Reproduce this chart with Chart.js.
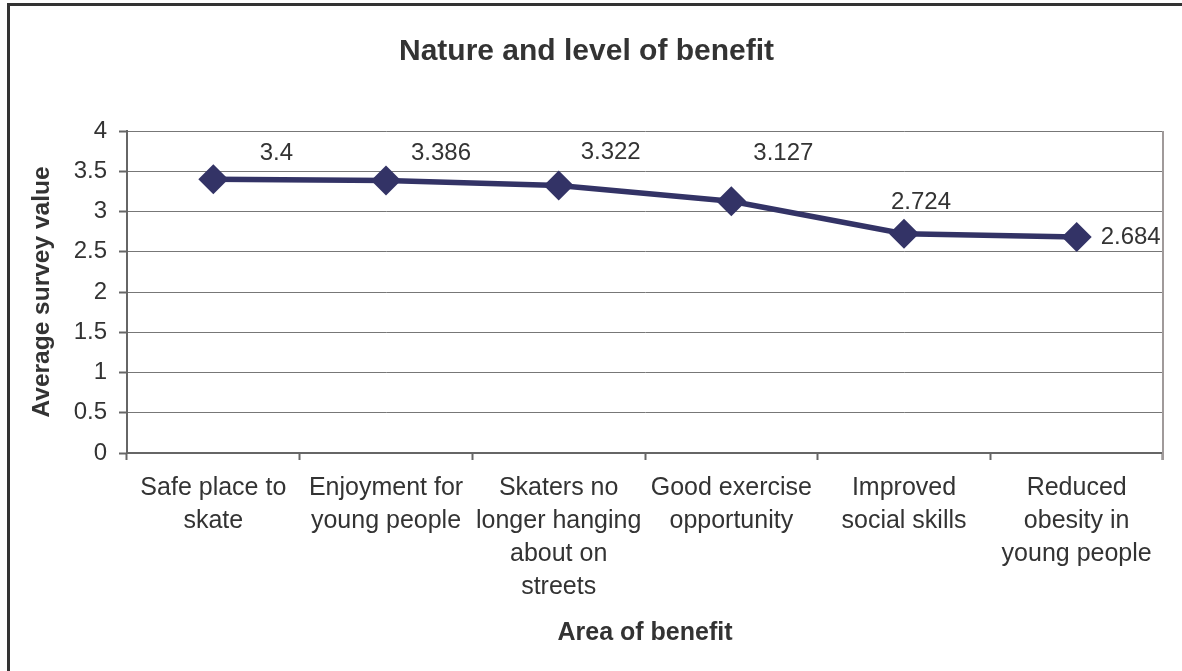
<!DOCTYPE html>
<html>
<head>
<meta charset="utf-8">
<title>Nature and level of benefit</title>
<script src="https://cdn.jsdelivr.net/npm/chart.js@4/dist/chart.umd.min.js"></script>
<style>
  html, body { margin: 0; padding: 0; background: #fff; }
  #wrap { position: relative; width: 1182px; height: 671px; }
</style>
</head>
<body>
<div id="wrap"><canvas id="benefitChart"></canvas></div>
<script>
// data
const categories = [
  ['Safe place to', 'skate'],
  ['Enjoyment for', 'young people'],
  ['Skaters no', 'longer hanging', 'about on', 'streets'],
  ['Good exercise', 'opportunity'],
  ['Improved', 'social skills'],
  ['Reduced', 'obesity in', 'young people'],
];
const surveyValues = [3.4, 3.386, 3.322, 3.127, 2.724, 2.684];
const valueLabels = ['3.4', '3.386', '3.322', '3.127', '2.724', '2.684'];
const yTicks = [0, 0.5, 1, 1.5, 2, 2.5, 3, 3.5, 4];

// label nudges (px from the marker), Excel style placement
const labelNudge = [[63, -26], [55, -27], [52, -33], [52, -48], [17, -31], [54, 0]];

const TEXT = '#333333';
const NAVY = '#333366';
const FONT = "'Liberation Sans', Arial, sans-serif";

// frame on the top and left edge
const framePlugin = {
  id: 'frame',
  beforeDraw(chart) {
    const { ctx, width, height } = chart;
    ctx.save();
    ctx.fillStyle = '#fff';
    ctx.fillRect(0, 0, width, height);
    ctx.fillStyle = '#333';
    ctx.fillRect(7, 3, width - 7, 3);
    ctx.fillRect(7, 3, 3, height - 3);
    ctx.restore();
  },
  afterDraw(chart) {
    // right border of the plot
    const { ctx, chartArea } = chart;
    ctx.save();
    ctx.strokeStyle = '#a09a9a';
    ctx.lineWidth = 2;
    ctx.beginPath();
    ctx.moveTo(chartArea.right, chartArea.top);
    ctx.lineTo(chartArea.right, chartArea.bottom + 7);
    ctx.stroke();
    ctx.restore();
  },
};

// value labels next to the markers
const valueLabelPlugin = {
  id: 'valueLabels',
  afterDatasetsDraw(chart) {
    const { ctx } = chart;
    const meta = chart.getDatasetMeta(0);
    ctx.save();
    ctx.font = '24px ' + FONT;
    ctx.fillStyle = TEXT;
    ctx.textAlign = 'center';
    ctx.textBaseline = 'middle';
    meta.data.forEach((pt, i) => {
      const [dx, dy] = labelNudge[i];
      ctx.fillText(valueLabels[i], pt.x + dx, pt.y + dy);
    });
    ctx.restore();
  },
};

new Chart(document.getElementById('benefitChart'), {
  type: 'line',
  data: {
    labels: categories,
    datasets: [{
      data: surveyValues,
      borderColor: NAVY,
      backgroundColor: NAVY,
      borderWidth: 5.5,
      tension: 0,
      pointStyle: 'rectRot',
      pointRadius: 15,
      pointHoverRadius: 15,
      pointBorderWidth: 0,
      pointBackgroundColor: NAVY,
    }],
  },
  options: {
    responsive: true,
    maintainAspectRatio: false,
    animation: false,
    events: [],
    layout: { padding: { left: 10, right: 19, top: 0, bottom: 0 } },
    plugins: {
      legend: { display: false },
      tooltip: { enabled: false },
      title: {
        display: true,
        text: 'Nature and level of benefit',
        color: TEXT,
        font: { family: FONT, size: 30, weight: 'bold', lineHeight: 1.2 },
        padding: { top: 34, bottom: 61 },
      },
    },
    scales: {
      x: {
        type: 'category',
        offset: true,
        afterFit: (scale) => { scale.height = 218; },
        grid: {
          offset: true,
          drawOnChartArea: false,
          drawTicks: true,
          tickLength: 7,
          tickColor: '#666',
          tickWidth: 2,
        },
        border: { color: '#666', width: 2 },
        ticks: {
          color: TEXT,
          maxRotation: 0,
          autoSkip: false,
          padding: 12,
          font: { family: FONT, size: 25, lineHeight: 1.32 },
        },
        title: {
          display: true,
          text: 'Area of benefit',
          color: TEXT,
          font: { family: FONT, size: 25, weight: 'bold', lineHeight: 1.2 },
          padding: { top: 0, bottom: 23 },
        },
      },
      y: {
        min: 0,
        max: 4,
        afterFit: (scale) => { scale.width = 117; },
        afterBuildTicks: (scale) => { scale.ticks = yTicks.map(v => ({ value: v })); },
        grid: {
          color: '#777',
          lineWidth: 1,
          tickLength: 8,
          tickColor: '#666',
          tickWidth: 2,
        },
        border: { color: '#666', width: 2 },
        ticks: {
          color: TEXT,
          padding: 12,
          font: { family: FONT, size: 24 },
          callback: (v) => String(v),
        },
        title: {
          display: true,
          text: 'Average survey value',
          color: TEXT,
          font: { family: FONT, size: 24.5, weight: 'bold', lineHeight: 1.2 },
          padding: { top: 17.3, bottom: 0 },
        },
      },
    },
  },
  plugins: [framePlugin, valueLabelPlugin],
});
</script>
</body>
</html>
